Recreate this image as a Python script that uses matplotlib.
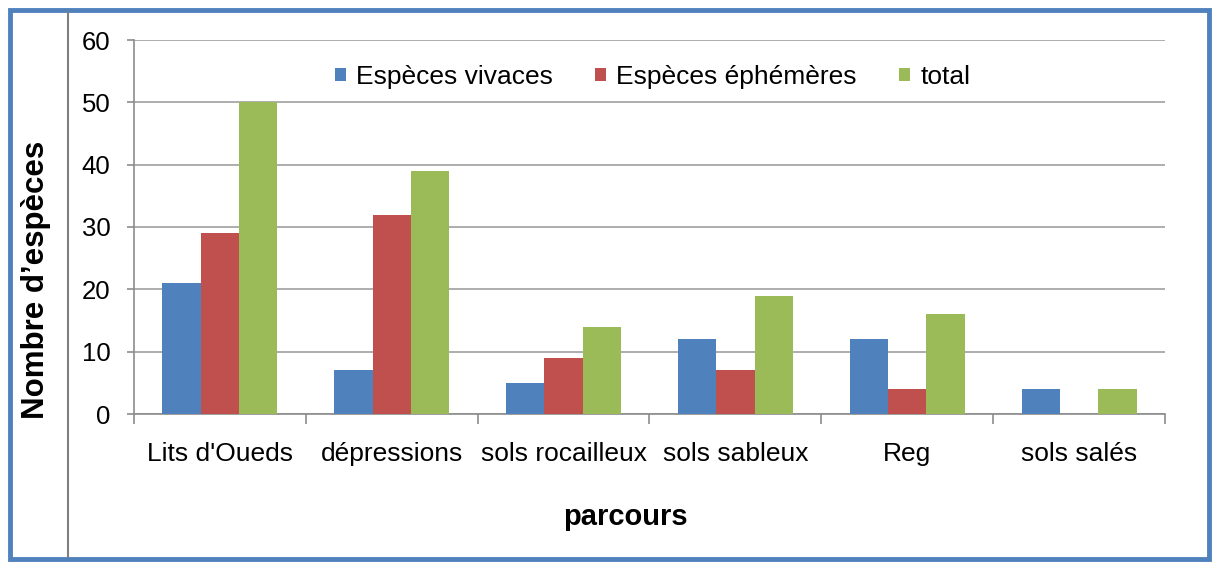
import numpy as np
import matplotlib
matplotlib.use("Agg")
import matplotlib.pyplot as plt
from matplotlib.patches import Rectangle
from matplotlib.lines import Line2D

plt.rcParams['font.family'] = ['Liberation Sans', 'DejaVu Sans']

# data
categories = ["Lits d'Oueds", "dépressions", "sols rocailleux", "sols sableux", "Reg", "sols salés"]
series_names = ["Espèces vivaces", "Espèces éphémères", "total"]
vivaces = [21, 7, 5, 12, 12, 4]
ephemeres = [29, 32, 9, 7, 4, 0]
total = [50, 39, 14, 19, 16, 4]
y_ticks = [0, 10, 20, 30, 40, 50, 60]

colors = ["#4F81BD", "#C0504D", "#9BBB59"]
grey = "#8C8C8C"

W, H = 1214, 563
fig = plt.figure(figsize=(W / 100, H / 100), dpi=100)
ax = fig.add_axes([134 / W, 1 - 414 / H, (1165 - 134) / W, (414 - 40) / H])

x = np.arange(len(categories))
bw = 0.223
for k, vals in enumerate([vivaces, ephemeres, total]):
    ax.bar(x + (k - 1) * bw, vals, width=bw, color=colors[k],
           label=series_names[k], zorder=3, linewidth=0)

ax.set_xlim(-0.5, len(categories) - 0.5)
ax.set_ylim(0, 60)
ax.set_yticks(y_ticks)
ax.yaxis.grid(True, color="#A0A0A0", linewidth=1.2, zorder=0)

ax.set_xticks(x)
ax.set_xticklabels(categories, fontsize=19)
ax.set_xticks(np.arange(len(categories) + 1) - 0.5, minor=True)
ax.tick_params(axis="x", which="major", length=0, pad=20)
ax.tick_params(axis="x", which="minor", length=7, color=grey, width=1.2)
ax.tick_params(axis="y", length=5, color=grey, width=1.2, labelsize=18.5, pad=12)

for s in ["top", "right"]:
    ax.spines[s].set_visible(False)
for s in ["left", "bottom"]:
    ax.spines[s].set_color(grey)
    ax.spines[s].set_linewidth(1.2)

ax.legend(loc="center", bbox_to_anchor=(0.503, 0.901), ncol=3, frameon=False,
          fontsize=19, handlelength=0.4, handleheight=0.4, handletextpad=0.4,
          columnspacing=1.6)

fig.text(625 / W, 1 - 525 / H, "parcours", fontsize=21, fontweight="bold",
         ha="center", va="baseline")
fig.text(36 / W, 1 - 280 / H, "Nombre d\u2019espèces", fontsize=22.5, fontweight="bold",
         rotation=90, ha="center", va="center")

# frame and separator line
fig.add_artist(Rectangle((9.5 / W, 1 - 558.5 / H), (1209 - 9.5) / W, (558.5 - 9.5) / H,
                         transform=fig.transFigure, fill=False,
                         edgecolor="#4F81BD", linewidth=3.5))
fig.add_artist(Line2D([68 / W, 68 / W], [1 - 557 / H, 1 - 12 / H],
                      transform=fig.transFigure, color="#7F7F7F", linewidth=1.5))

fig.savefig("out.png", dpi=100)
